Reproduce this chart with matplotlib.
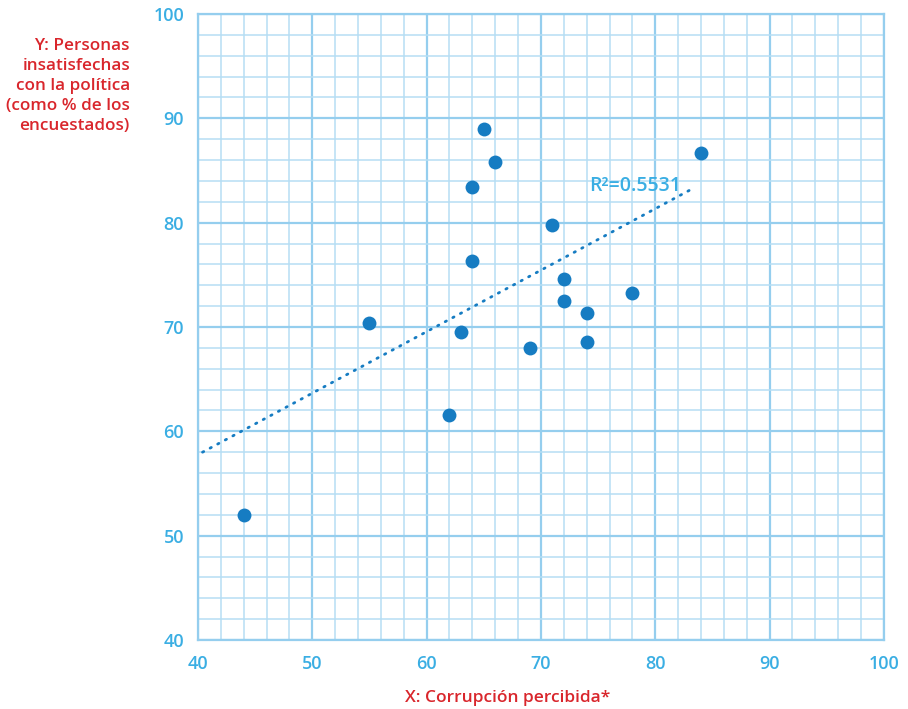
import numpy as np
import matplotlib
matplotlib.use("Agg")
import matplotlib.pyplot as plt
from matplotlib.ticker import MultipleLocator

# corruption perceived (x) vs people dissatisfied with politics (y)
corrupcion = [44, 55, 62, 63, 64, 64, 65, 66, 69, 71, 72, 72, 74, 74, 78, 84]
insatisfechos = [52.0, 70.4, 61.6, 69.5, 76.3, 83.4, 89.0, 85.8, 68.0, 79.8, 74.6, 72.5, 71.3, 68.6, 73.3, 86.7]
# trendline ends as drawn in the source chart
trend_x = [40.4, 83.5]
trend_y = [58.0, 83.4]
r2_text = "R²=0.5531"

tick_col = "#3AAEE3"
label_col = "#D9262C"
grid_major = "#95CEEE"
grid_minor = "#B6DEF4"
point_col = "#167CC2"

plt.rcParams['font.family'] = ['Open Sans', 'DejaVu Sans']

fig = plt.figure(figsize=(9.08, 7.09), dpi=100)
ax = fig.add_axes([0.218, 0.0973, 0.7555, 0.883])

ax.set_xlim(40, 100)
ax.set_ylim(40, 100)
ax.xaxis.set_major_locator(MultipleLocator(10))
ax.yaxis.set_major_locator(MultipleLocator(10))
ax.xaxis.set_minor_locator(MultipleLocator(2))
ax.yaxis.set_minor_locator(MultipleLocator(2))
ax.grid(which='minor', color=grid_minor, lw=1.1)
ax.grid(which='major', color=grid_major, lw=1.6)
ax.set_axisbelow(True)
for s in ax.spines.values():
    s.set_color(grid_major)
    s.set_linewidth(1.6)
ax.tick_params(which='both', length=0)
ax.tick_params(axis='both', labelsize=13, labelcolor=tick_col)
ax.tick_params(axis='y', pad=10)
ax.tick_params(axis='x', pad=11)
for lab in ax.get_xticklabels() + ax.get_yticklabels():
    lab.set_fontweight('semibold')

ax.plot(trend_x, trend_y, color=point_col, lw=2, ls=(0, (0.5, 2.6)), dash_capstyle='round', zorder=3)
ax.text(78.2, 83.5, r2_text, color=tick_col, fontsize=14, fontweight='semibold', ha='center', va='center')

ax.scatter(corrupcion, insatisfechos, s=100, color=point_col, zorder=4, linewidths=0)

fig.text(130 / 908, 1 - 86 / 709, "Y: Personas\ninsatisfechas\ncon la política\n(como % de los\nencuestados)",
         color=label_col, fontsize=12.3, fontweight='semibold', ha='right', va='center', linespacing=1.32)
fig.text(508 / 908, 1 - 698 / 709, "X: Corrupción percibida*", color=label_col, fontsize=12.5,
         fontweight='semibold', ha='center', va='center')

fig.savefig("out.png", dpi=100)
